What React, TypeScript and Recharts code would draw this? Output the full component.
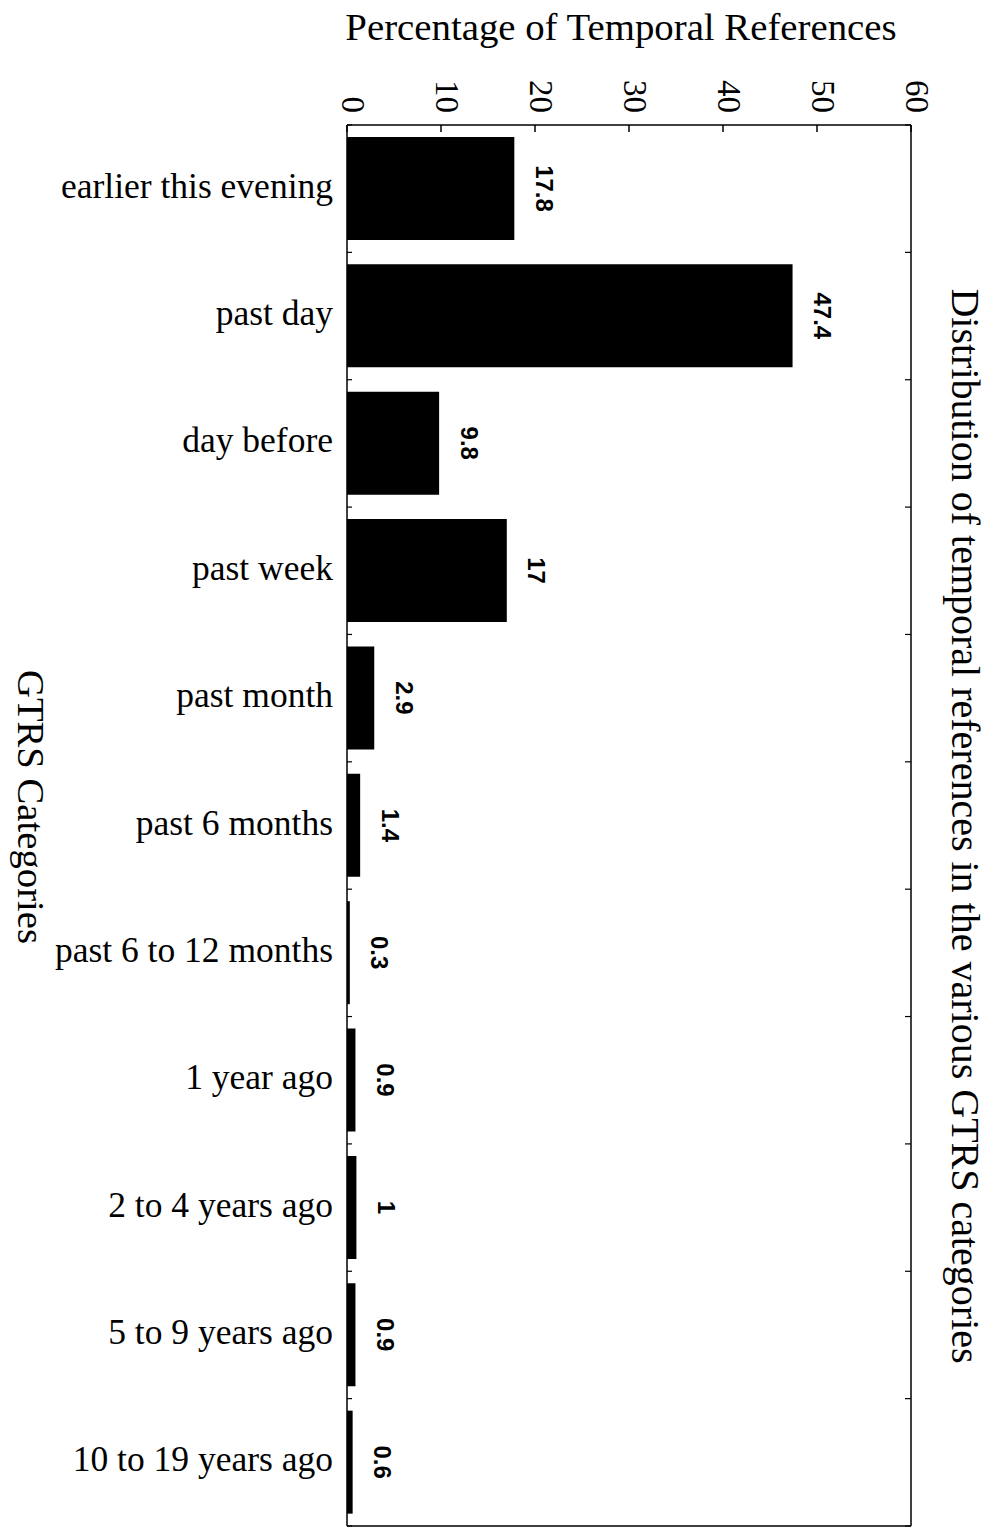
import React from 'react';
import { BarChart, Bar, XAxis, YAxis, LabelList } from 'recharts';

// categories and values
const categories = [
  'earlier this evening',
  'past day',
  'day before',
  'past week',
  'past month',
  'past 6 months',
  'past 6 to 12 months',
  '1 year ago',
  '2 to 4 years ago',
  '5 to 9 years ago',
  '10 to 19 years ago',
];
const percentages = [17.8, 47.4, 9.8, 17, 2.9, 1.4, 0.3, 0.9, 1, 0.9, 0.6];
const xTicks = [0, 10, 20, 30, 40, 50, 60];

const data = categories.map((name, i) => ({ name, value: percentages[i] }));

const W = 997;
const H = 1528;
const PLOT_LEFT = 347;
const PLOT_RIGHT = 911;
const PLOT_TOP = 125;
const PLOT_BOTTOM = 1526;

const SERIF = '"Liberation Serif", "Times New Roman", serif';
const SANS = '"Liberation Sans", Arial, sans-serif';

const TopTick = (props: any) => {
  const { x, y, payload } = props;
  return (
    <g>
      <line x1={x} y1={y} x2={x} y2={y + 7} stroke="#000" strokeWidth={1.5} />
      <text
        x={x + 6}
        y={y - 12}
        transform={`rotate(90 ${x + 6} ${y - 12})`}
        textAnchor="end"
        dominantBaseline="central"
        fontFamily={SERIF}
        fontSize={33}
        fill="#000"
      >
        {payload.value}
      </text>
    </g>
  );
};

const BottomTick = (props: any) => {
  const { x, y } = props;
  return <line x1={x} y1={y} x2={x} y2={y - 7} stroke="#000" strokeWidth={1.5} />;
};

const CategoryTick = (props: any) => {
  const { x, y, payload } = props;
  return (
    <text
      x={x - 14}
      y={y - 3}
      textAnchor="end"
      dominantBaseline="central"
      fontFamily={SERIF}
      fontSize={35.5}
      fill="#000"
    >
      {payload.value}
    </text>
  );
};

// small ticks at the band boundaries, on the right and left edges of the frame
const BoundaryTick = (props: any) => {
  const { x, y, payload, index } = props;
  const half = payload && payload.offset ? payload.offset : 0;
  const ys = [y - half];
  if (index === categories.length - 1) ys.push(y + half);
  return (
    <g>
      {ys.map((yy, i) => (
        <g key={i}>
          <line x1={x} y1={yy} x2={x - 6} y2={yy} stroke="#000" strokeWidth={1.2} />
          <line x1={PLOT_LEFT} y1={yy} x2={PLOT_LEFT + 5} y2={yy} stroke="#000" strokeWidth={1.2} />
        </g>
      ))}
    </g>
  );
};

const ValueLabel = (props: any) => {
  const { x, y, width, height, value } = props;
  const cx = x + width + 30;
  const cy = y + height / 2;
  return (
    <text
      x={cx}
      y={cy}
      transform={`rotate(90 ${cx} ${cy})`}
      textAnchor="middle"
      dominantBaseline="central"
      fontFamily={SANS}
      fontSize={24}
      fontWeight="bold"
      fill="#000"
    >
      {value}
    </text>
  );
};

export default function App() {
  return (
    <div style={{ position: 'absolute', left: 0, top: 0, width: W, height: H, background: '#fff' }}>
      <BarChart
        width={W}
        height={H}
        data={data}
        layout="vertical"
        barCategoryGap={12}
        margin={{ top: 0, right: 0, bottom: 0, left: 0 }}
      >
        <XAxis
          type="number"
          orientation="top"
          domain={[0, 60]}
          ticks={xTicks}
          height={PLOT_TOP}
          tickSize={0}
          tickMargin={0}
          tickLine={false}
          axisLine={{ stroke: '#000', strokeWidth: 1.5 }}
          tick={<TopTick />}
          interval={0}
        />
        <XAxis
          xAxisId="b"
          type="number"
          orientation="bottom"
          domain={[0, 60]}
          ticks={xTicks}
          height={H - PLOT_BOTTOM}
          tickSize={0}
          tickMargin={0}
          tickLine={false}
          axisLine={{ stroke: '#000', strokeWidth: 1.5 }}
          tick={<BottomTick />}
          interval={0}
        />
        <YAxis
          type="category"
          dataKey="name"
          width={PLOT_LEFT}
          tickSize={0}
          tickMargin={0}
          tickLine={false}
          axisLine={{ stroke: '#000', strokeWidth: 1.5 }}
          tick={<CategoryTick />}
          interval={0}
        />
        <YAxis
          yAxisId="r"
          type="category"
          dataKey="name"
          orientation="right"
          width={W - PLOT_RIGHT}
          tickSize={0}
          tickMargin={0}
          tickLine={false}
          axisLine={{ stroke: '#000', strokeWidth: 1.5 }}
          tick={<BoundaryTick />}
          interval={0}
        />
        <Bar dataKey="value" fill="#000" isAnimationActive={false}>
          <LabelList dataKey="value" content={<ValueLabel />} />
        </Bar>
      </BarChart>

      <div
        style={{
          position: 'absolute',
          left: 621,
          top: 27,
          transform: 'translate(-50%, -50%)',
          fontFamily: SERIF,
          fontSize: 38.8,
          lineHeight: '44px',
          whiteSpace: 'nowrap',
        }}
      >
        Percentage of Temporal References
      </div>
      <div
        style={{
          position: 'absolute',
          left: 965,
          top: 826,
          transform: 'translate(-50%, -50%) rotate(90deg)',
          fontFamily: SERIF,
          fontSize: 40,
          lineHeight: '44px',
          whiteSpace: 'nowrap',
        }}
      >
        Distribution of temporal references in the various GTRS categories
      </div>
      <div
        style={{
          position: 'absolute',
          left: 31,
          top: 807,
          transform: 'translate(-50%, -50%) rotate(90deg)',
          fontFamily: SERIF,
          fontSize: 38.7,
          lineHeight: '44px',
          whiteSpace: 'nowrap',
        }}
      >
        GTRS Categories
      </div>
    </div>
  );
}
